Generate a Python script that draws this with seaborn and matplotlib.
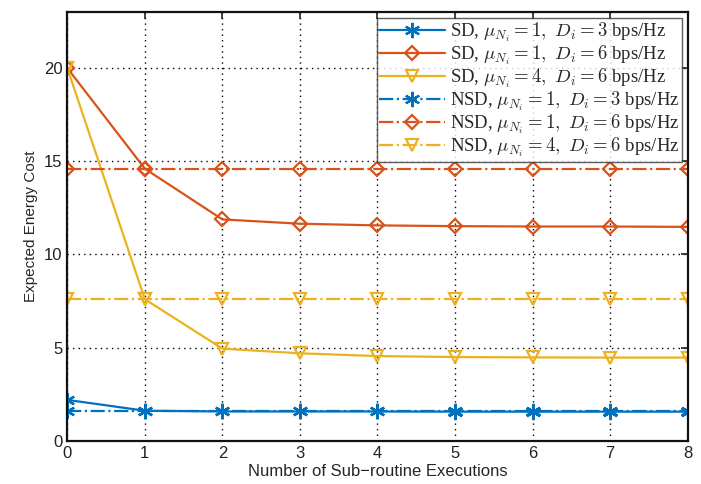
import numpy as np
import pandas as pd
import matplotlib
matplotlib.use("Agg")
import matplotlib.pyplot as plt
import seaborn as sns

executions = [0, 1, 2, 3, 4, 5, 6, 7, 8]
sd_mu1_d3 = [2.2, 1.62, 1.58, 1.58, 1.58, 1.57, 1.57, 1.57, 1.57]
sd_mu1_d6 = [20.0, 14.6, 11.88, 11.65, 11.56, 11.52, 11.5, 11.5, 11.48]
sd_mu4_d6 = [20.0, 7.6, 4.95, 4.7, 4.55, 4.5, 4.48, 4.47, 4.47]
nsd_mu1_d3 = [1.6] * 9
nsd_mu1_d6 = [14.58] * 9
nsd_mu4_d6 = [7.6] * 9

labels = [
    r'SD, $\mu_{N_i}=1,\ D_i=3$ bps/Hz',
    r'SD, $\mu_{N_i}=1,\ D_i=6$ bps/Hz',
    r'SD, $\mu_{N_i}=4,\ D_i=6$ bps/Hz',
    r'NSD, $\mu_{N_i}=1,\ D_i=3$ bps/Hz',
    r'NSD, $\mu_{N_i}=1,\ D_i=6$ bps/Hz',
    r'NSD, $\mu_{N_i}=4,\ D_i=6$ bps/Hz',
]
series = [sd_mu1_d3, sd_mu1_d6, sd_mu4_d6, nsd_mu1_d3, nsd_mu1_d6, nsd_mu4_d6]

sns.set_theme(style="white")
plt.rcParams['font.family'] = ['Liberation Sans', 'DejaVu Sans']
plt.rcParams['mathtext.fontset'] = 'cm'

blue, red, yellow = '#0072BD', '#D95319', '#EDB120'
colors = [blue, red, yellow, blue, red, yellow]
asterisk = (6, 2, 0)
markers = [asterisk, 'D', 'v', asterisk, 'D', 'v']
styles = ['-', '-', '-', '-.', '-.', '-.']
msizes = [11, 7, 8, 11, 7, 8]

fig, ax = plt.subplots(figsize=(7.01, 4.84), dpi=100)
fig.subplots_adjust(left=0.096, right=0.981, top=0.975, bottom=0.089)

for y, lab, c, m, ls, ms in zip(series, labels, colors, markers, styles, msizes):
    df = pd.DataFrame({'x': executions, 'y': y})
    sns.lineplot(data=df, x='x', y='y', ax=ax, color=c, linestyle=ls, lw=1.6,
                 marker=m, markersize=ms, markerfacecolor='none',
                 markeredgecolor=c, markeredgewidth=1.6, label=lab)

ax.set_xlim(0, 8)
ax.set_ylim(0, 23)
ax.set_xticks(range(0, 9))
ax.set_yticks([0, 5, 10, 15, 20])
ax.tick_params(direction='in', length=5, width=1.2, labelsize=12, colors='#222222',
               top=True, right=True)
ax.grid(True, linestyle=(0, (1, 3)), color='black', linewidth=1.0)
for s in ax.spines.values():
    s.set_visible(True)
    s.set_color('#111111')
    s.set_linewidth(1.6)
ax.set_xlabel('Number of Sub\u2212routine Executions', fontsize=12, labelpad=2)
ax.set_ylabel('Expected Energy Cost', fontsize=11, labelpad=4)

leg = ax.legend(loc='upper right', prop={'family': 'Liberation Serif', 'size': 13.5},
                frameon=True, fancybox=False, edgecolor='#333333',
                borderpad=0.15, labelspacing=-0.02, handlelength=3.5,
                handletextpad=0.25, borderaxespad=0.3)
leg.get_frame().set_linewidth(1.0)

fig.savefig('out.png', dpi=100)
